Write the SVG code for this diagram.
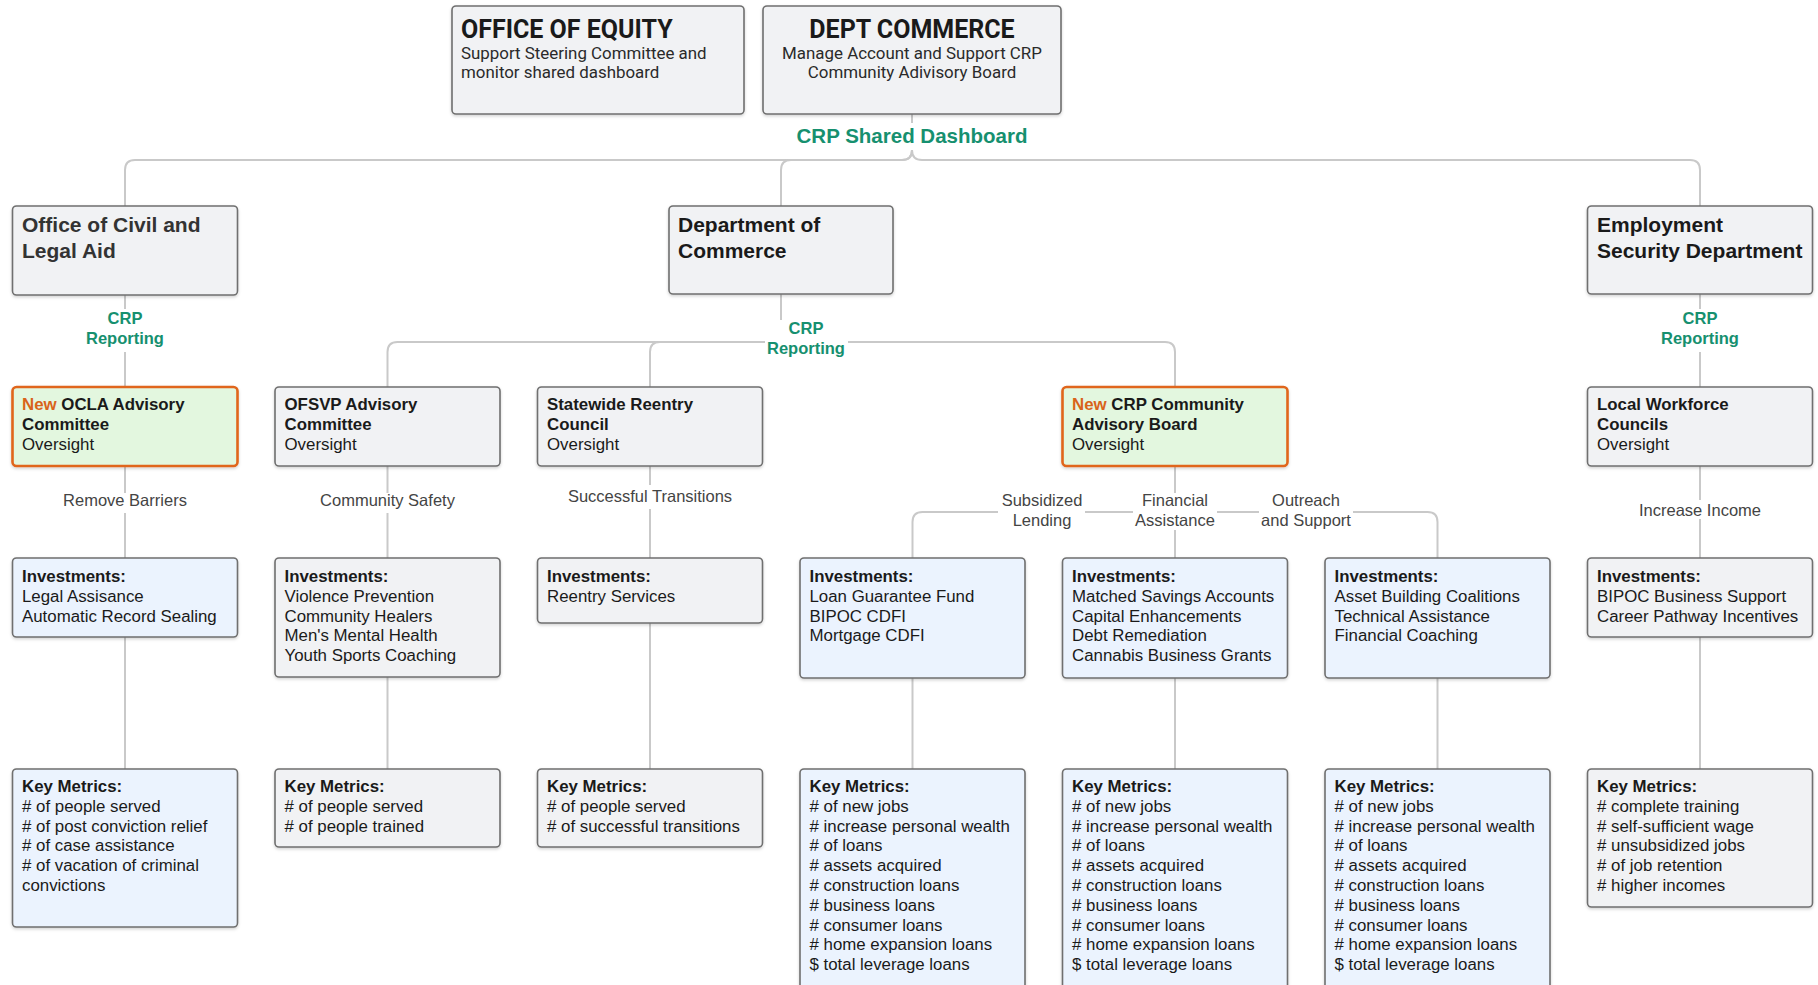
<svg xmlns="http://www.w3.org/2000/svg" width="1818" height="985" viewBox="0 0 1818 985">
  <defs>
    <filter id="shadow" x="-5%" y="-5%" width="110%" height="115%">
      <feDropShadow dx="0" dy="1.5" stdDeviation="1.5" flood-color="#000" flood-opacity="0.18"/>
    </filter>
    <style>
      .box { stroke: #6f6f6f; stroke-width: 1.6; filter: url(#shadow); }
      .gray { fill: #f1f2f4; }
      .blue { fill: #ebf3fe; }
      .new { fill: #e3f7df; stroke: #e0661c; stroke-width: 2.6; }
      .link { fill: none; stroke: #c9c9c9; stroke-width: 2; }
      .bg { fill: #ffffff; }
      .t { font-family: "Liberation Sans", Arial, sans-serif; font-size: 16.85px; fill: #1a1a1a; }
      .b { font-weight: bold; }
      .h1 { font-family: "Liberation Sans", Arial, sans-serif; font-size: 21px; font-weight: bold; fill: #1a1a1a; }
      .top { font-family: Roboto, "Liberation Sans", sans-serif; fill: #1a1a1a; }
      .topt { font-size: 25px; font-weight: bold; }
      .tops { font-size: 16.9px; fill: #2a2a2a; }
      .green { font-family: "Liberation Sans", Arial, sans-serif; font-weight: bold; fill: #16906f; text-anchor: middle; }
      .lbl { font-family: "Liberation Sans", Arial, sans-serif; font-size: 16.5px; fill: #444444; text-anchor: middle; }
      .orange { fill: #d9641a; }
    </style>
  </defs>

  <rect width="1818" height="985" fill="#ffffff"/>

  <!-- connectors -->
  <g id="connectors">
    <!-- dashboard to the three agencies -->
    <path class="link" d="M912,114 V150 Q912,160 902,160 H135 Q125,160 125,170 V206"/>
    <path class="link" d="M912,114 V150 Q912,160 902,160 H791 Q781,160 781,170 V206"/>
    <path class="link" d="M912,114 V150 Q912,160 922,160 H1690 Q1700,160 1700,170 V206"/>
    <!-- agencies to oversight bodies -->
    <path class="link" d="M125,295 V387"/>
    <path class="link" d="M781,294 V332 Q781,342 771,342 H397.5 Q387.5,342 387.5,352 V387"/>
    <path class="link" d="M781,294 V332 Q781,342 771,342 H660 Q650,342 650,352 V387"/>
    <path class="link" d="M781,294 V332 Q781,342 791,342 H1165 Q1175,342 1175,352 V387"/>
    <path class="link" d="M1700,294 V387"/>
    <!-- oversight to investments -->
    <path class="link" d="M125,466 V558"/>
    <path class="link" d="M387.5,466 V558"/>
    <path class="link" d="M650,466 V558"/>
    <path class="link" d="M1175,466 V502 Q1175,512 1165,512 H922.5 Q912.5,512 912.5,522 V558"/>
    <path class="link" d="M1175,466 V558"/>
    <path class="link" d="M1175,466 V502 Q1175,512 1185,512 H1427.5 Q1437.5,512 1437.5,522 V558"/>
    <path class="link" d="M1700,466 V558"/>
    <!-- investments to key metrics -->
    <path class="link" d="M125,637 V769"/>
    <path class="link" d="M387.5,677 V769"/>
    <path class="link" d="M650,623 V769"/>
    <path class="link" d="M912.5,678 V769"/>
    <path class="link" d="M1175,678 V769"/>
    <path class="link" d="M1437.5,678 V769"/>
    <path class="link" d="M1700,637 V769"/>

    <!-- label backgrounds -->
    <rect class="bg" x="788" y="123" width="248" height="27"/>
    <rect class="bg" x="80" y="309" width="90" height="43"/>
    <rect class="bg" x="765" y="320" width="83" height="41"/>
    <rect class="bg" x="1655" y="309" width="90" height="43"/>
    <rect class="bg" x="61" y="493" width="128" height="20"/>
    <rect class="bg" x="319" y="493" width="137" height="20"/>
    <rect class="bg" x="566" y="485" width="168" height="24"/>
    <rect class="bg" x="998" y="491" width="87" height="40"/>
    <rect class="bg" x="1133" y="493" width="84" height="37"/>
    <rect class="bg" x="1259" y="491" width="94" height="40"/>
    <rect class="bg" x="1638" y="500" width="124" height="19"/>

    <!-- connector labels -->
    <text class="green" x="912" y="143" font-size="20.5">CRP Shared Dashboard</text>
    <text class="green" x="125" y="324" font-size="16.5">CRP<tspan x="125" y="344">Reporting</tspan></text>
    <text class="green" x="806" y="334" font-size="16.5">CRP<tspan x="806" y="354">Reporting</tspan></text>
    <text class="green" x="1700" y="324" font-size="16.5">CRP<tspan x="1700" y="344">Reporting</tspan></text>
    <text class="lbl" x="125" y="506">Remove Barriers</text>
    <text class="lbl" x="387.5" y="506">Community Safety</text>
    <text class="lbl" x="650" y="502">Successful Transitions</text>
    <text class="lbl" x="1042" y="506">Subsidized<tspan x="1042" y="526">Lending</tspan></text>
    <text class="lbl" x="1175" y="506">Financial<tspan x="1175" y="526">Assistance</tspan></text>
    <text class="lbl" x="1306" y="506">Outreach<tspan x="1306" y="526">and Support</tspan></text>
    <text class="lbl" x="1700" y="516">Increase Income</text>
  </g>

  <!-- top row -->
  <g id="office-of-equity">
    <rect class="box gray" x="452" y="6" width="292" height="108" rx="4"/>
    <text class="top topt" x="461" y="38">OFFICE OF EQUITY</text>
    <text class="top tops" x="461" y="59">Support Steering Committee and<tspan x="461" y="77.5">monitor shared dashboard</tspan></text>
  </g>
  <g id="dept-commerce-top">
    <rect class="box gray" x="763" y="6" width="298" height="108" rx="4"/>
    <text class="top topt" x="912" y="38" text-anchor="middle">DEPT COMMERCE</text>
    <text class="top tops" x="912" y="59" text-anchor="middle">Manage Account and Support CRP<tspan x="912" y="77.5">Community Adivisory Board</tspan></text>
  </g>

  <!-- agencies -->
  <g id="ocla">
    <rect class="box gray" x="12.5" y="206" width="225" height="89" rx="4"/>
    <text class="h1" x="22" y="232" style="fill:#333333">Office of Civil and<tspan x="22" y="258">Legal Aid</tspan></text>
  </g>
  <g id="commerce">
    <rect class="box gray" x="669" y="206" width="224" height="88" rx="4"/>
    <text class="h1" x="678" y="232">Department of<tspan x="678" y="258">Commerce</tspan></text>
  </g>
  <g id="esd">
    <rect class="box gray" x="1587.5" y="206" width="225" height="88" rx="4"/>
    <text class="h1" x="1597" y="232">Employment<tspan x="1597" y="258">Security Department</tspan></text>
  </g>

  <!-- oversight bodies -->
  <g id="ocla-advisory">
    <rect class="box new" x="12.5" y="387" width="225" height="79" rx="4"/>
    <text class="t b" x="22" y="410"><tspan class="orange">New</tspan> OCLA Advisory<tspan x="22" y="430">Committee</tspan></text>
    <text class="t" x="22" y="450">Oversight</text>
  </g>
  <g id="ofsvp-advisory">
    <rect class="box gray" x="275" y="387" width="225" height="79" rx="4"/>
    <text class="t b" x="284.5" y="410">OFSVP Advisory<tspan x="284.5" y="430">Committee</tspan></text>
    <text class="t" x="284.5" y="450">Oversight</text>
  </g>
  <g id="reentry-council">
    <rect class="box gray" x="537.5" y="387" width="225" height="79" rx="4"/>
    <text class="t b" x="547" y="410">Statewide Reentry<tspan x="547" y="430">Council</tspan></text>
    <text class="t" x="547" y="450">Oversight</text>
  </g>
  <g id="crp-advisory-board">
    <rect class="box new" x="1062.5" y="387" width="225" height="79" rx="4"/>
    <text class="t b" x="1072" y="410"><tspan class="orange">New</tspan> CRP Community<tspan x="1072" y="430">Advisory Board</tspan></text>
    <text class="t" x="1072" y="450">Oversight</text>
  </g>
  <g id="workforce-councils">
    <rect class="box gray" x="1587.5" y="387" width="225" height="79" rx="4"/>
    <text class="t b" x="1597" y="410">Local Workforce<tspan x="1597" y="430">Councils</tspan></text>
    <text class="t" x="1597" y="450">Oversight</text>
  </g>

  <!-- investments -->
  <g id="inv-ocla">
    <rect class="box blue" x="12.5" y="558" width="225" height="79" rx="4"/>
    <text class="t" x="22" y="582"><tspan class="b">Investments:</tspan><tspan x="22" y="601.8">Legal Assisance</tspan><tspan x="22" y="621.6">Automatic Record Sealing</tspan></text>
  </g>
  <g id="inv-ofsvp">
    <rect class="box gray" x="275" y="558" width="225" height="119" rx="4"/>
    <text class="t" x="284.5" y="582"><tspan class="b">Investments:</tspan><tspan x="284.5" y="601.8">Violence Prevention</tspan><tspan x="284.5" y="621.6">Community Healers</tspan><tspan x="284.5" y="641.4">Men's Mental Health</tspan><tspan x="284.5" y="661.2">Youth Sports Coaching</tspan></text>
  </g>
  <g id="inv-reentry">
    <rect class="box gray" x="537.5" y="558" width="225" height="65" rx="4"/>
    <text class="t" x="547" y="582"><tspan class="b">Investments:</tspan><tspan x="547" y="601.8">Reentry Services</tspan></text>
  </g>
  <g id="inv-lending">
    <rect class="box blue" x="800" y="558" width="225" height="120" rx="4"/>
    <text class="t" x="809.5" y="582"><tspan class="b">Investments:</tspan><tspan x="809.5" y="601.8">Loan Guarantee Fund</tspan><tspan x="809.5" y="621.6">BIPOC CDFI</tspan><tspan x="809.5" y="641.4">Mortgage CDFI</tspan></text>
  </g>
  <g id="inv-assistance">
    <rect class="box blue" x="1062.5" y="558" width="225" height="120" rx="4"/>
    <text class="t" x="1072" y="582"><tspan class="b">Investments:</tspan><tspan x="1072" y="601.8">Matched Savings Accounts</tspan><tspan x="1072" y="621.6">Capital Enhancements</tspan><tspan x="1072" y="641.4">Debt Remediation</tspan><tspan x="1072" y="661.2">Cannabis Business Grants</tspan></text>
  </g>
  <g id="inv-outreach">
    <rect class="box blue" x="1325" y="558" width="225" height="120" rx="4"/>
    <text class="t" x="1334.5" y="582"><tspan class="b">Investments:</tspan><tspan x="1334.5" y="601.8">Asset Building Coalitions</tspan><tspan x="1334.5" y="621.6">Technical Assistance</tspan><tspan x="1334.5" y="641.4">Financial Coaching</tspan></text>
  </g>
  <g id="inv-esd">
    <rect class="box gray" x="1587.5" y="558" width="225" height="79" rx="4"/>
    <text class="t" x="1597" y="582"><tspan class="b">Investments:</tspan><tspan x="1597" y="601.8">BIPOC Business Support</tspan><tspan x="1597" y="621.6">Career Pathway Incentives</tspan></text>
  </g>

  <!-- key metrics -->
  <g id="km-ocla">
    <rect class="box blue" x="12.5" y="769" width="225" height="158" rx="4"/>
    <text class="t" x="22" y="792"><tspan class="b">Key Metrics:</tspan><tspan x="22" y="811.8"># of people served</tspan><tspan x="22" y="831.6"># of post conviction relief</tspan><tspan x="22" y="851.4"># of case assistance</tspan><tspan x="22" y="871.2"># of vacation of criminal</tspan><tspan x="22" y="891">convictions</tspan></text>
  </g>
  <g id="km-ofsvp">
    <rect class="box gray" x="275" y="769" width="225" height="78" rx="4"/>
    <text class="t" x="284.5" y="792"><tspan class="b">Key Metrics:</tspan><tspan x="284.5" y="811.8"># of people served</tspan><tspan x="284.5" y="831.6"># of people trained</tspan></text>
  </g>
  <g id="km-reentry">
    <rect class="box gray" x="537.5" y="769" width="225" height="78" rx="4"/>
    <text class="t" x="547" y="792"><tspan class="b">Key Metrics:</tspan><tspan x="547" y="811.8"># of people served</tspan><tspan x="547" y="831.6"># of successful transitions</tspan></text>
  </g>
  <g id="km-lending">
    <rect class="box blue" x="800" y="769" width="225" height="240" rx="4"/>
    <text class="t" x="809.5" y="792"><tspan class="b">Key Metrics:</tspan><tspan x="809.5" y="811.8"># of new jobs</tspan><tspan x="809.5" y="831.6"># increase personal wealth</tspan><tspan x="809.5" y="851.4"># of loans</tspan><tspan x="809.5" y="871.2"># assets acquired</tspan><tspan x="809.5" y="891"># construction loans</tspan><tspan x="809.5" y="910.8"># business loans</tspan><tspan x="809.5" y="930.6"># consumer loans</tspan><tspan x="809.5" y="950.4"># home expansion loans</tspan><tspan x="809.5" y="970.2">$ total leverage loans</tspan></text>
  </g>
  <g id="km-assistance">
    <rect class="box blue" x="1062.5" y="769" width="225" height="240" rx="4"/>
    <text class="t" x="1072" y="792"><tspan class="b">Key Metrics:</tspan><tspan x="1072" y="811.8"># of new jobs</tspan><tspan x="1072" y="831.6"># increase personal wealth</tspan><tspan x="1072" y="851.4"># of loans</tspan><tspan x="1072" y="871.2"># assets acquired</tspan><tspan x="1072" y="891"># construction loans</tspan><tspan x="1072" y="910.8"># business loans</tspan><tspan x="1072" y="930.6"># consumer loans</tspan><tspan x="1072" y="950.4"># home expansion loans</tspan><tspan x="1072" y="970.2">$ total leverage loans</tspan></text>
  </g>
  <g id="km-outreach">
    <rect class="box blue" x="1325" y="769" width="225" height="240" rx="4"/>
    <text class="t" x="1334.5" y="792"><tspan class="b">Key Metrics:</tspan><tspan x="1334.5" y="811.8"># of new jobs</tspan><tspan x="1334.5" y="831.6"># increase personal wealth</tspan><tspan x="1334.5" y="851.4"># of loans</tspan><tspan x="1334.5" y="871.2"># assets acquired</tspan><tspan x="1334.5" y="891"># construction loans</tspan><tspan x="1334.5" y="910.8"># business loans</tspan><tspan x="1334.5" y="930.6"># consumer loans</tspan><tspan x="1334.5" y="950.4"># home expansion loans</tspan><tspan x="1334.5" y="970.2">$ total leverage loans</tspan></text>
  </g>
  <g id="km-esd">
    <rect class="box gray" x="1587.5" y="769" width="225" height="138" rx="4"/>
    <text class="t" x="1597" y="792"><tspan class="b">Key Metrics:</tspan><tspan x="1597" y="811.8"># complete training</tspan><tspan x="1597" y="831.6"># self-sufficient wage</tspan><tspan x="1597" y="851.4"># unsubsidized jobs</tspan><tspan x="1597" y="871.2"># of job retention</tspan><tspan x="1597" y="891"># higher incomes</tspan></text>
  </g>
</svg>
